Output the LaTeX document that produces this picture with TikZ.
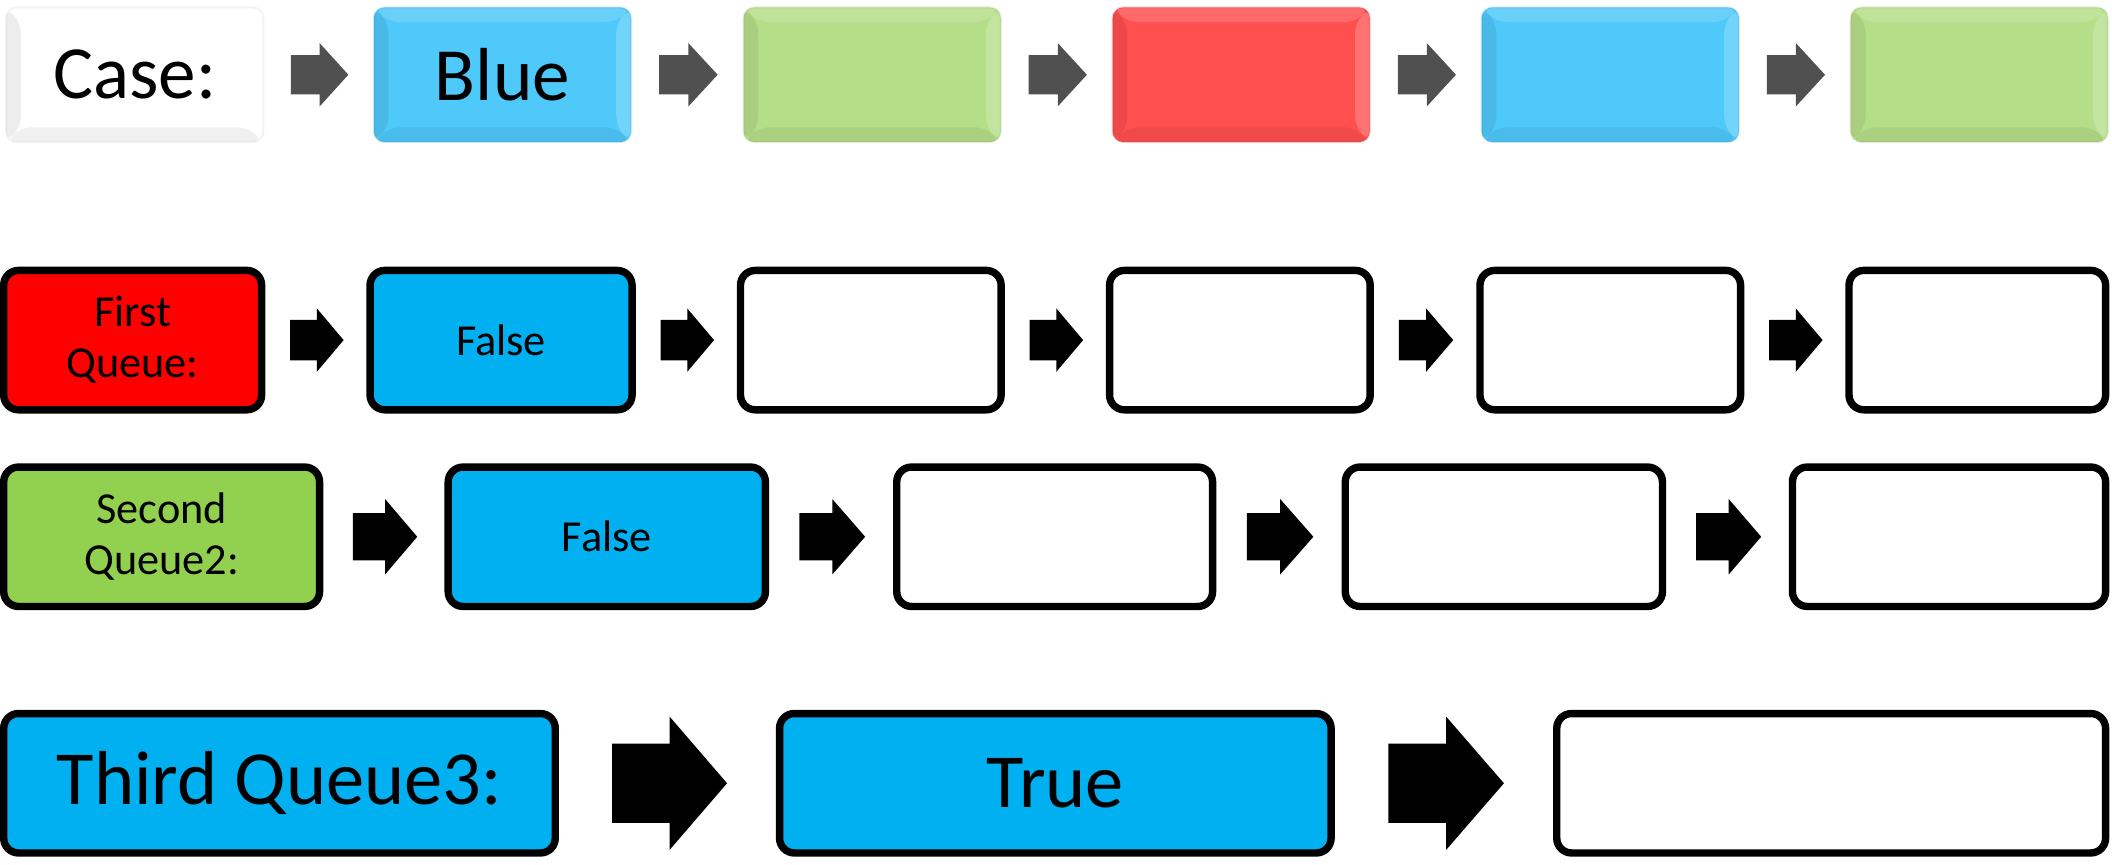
\documentclass[tikz,border=0pt]{standalone}
\usepackage{fontspec}
\setmainfont{Carlito}
\usetikzlibrary{calc}
\definecolor{tblue}{HTML}{4FC8FA}
\definecolor{tgreen}{HTML}{B5DE88}
\definecolor{tred}{HTML}{FF4F4F}
\definecolor{twhite}{HTML}{FFFFFF}
\definecolor{qred}{HTML}{FF0000}
\definecolor{qblue}{HTML}{00B0F0}
\definecolor{qgreen}{HTML}{92D050}
\definecolor{tgray}{HTML}{505050}
\tikzset{
  bevelbox/.style={rectangle, rounded corners=8bp, inner sep=0pt,
    minimum width=191bp, minimum height=100bp, fill=#1,
    draw=#1!75!black, draw opacity=0.18, line width=1.5bp,
    font=\fontsize{56}{60}\selectfont,
    path picture={
      \fill[white, fill opacity=0.15]
        (path picture bounding box.north west) -- (path picture bounding box.north east)
        -- ([xshift=-11bp,yshift=-11bp]path picture bounding box.north east)
        -- ([xshift=11bp,yshift=-11bp]path picture bounding box.north west) -- cycle;
      \fill[black, fill opacity=0.07]
        (path picture bounding box.north west)
        -- ([xshift=11bp,yshift=-11bp]path picture bounding box.north west)
        -- ([xshift=11bp,yshift=11bp]path picture bounding box.south west)
        -- (path picture bounding box.south west) -- cycle;
      \fill[black, fill opacity=0.06]
        (path picture bounding box.south west)
        -- ([xshift=11bp,yshift=11bp]path picture bounding box.south west)
        -- ([xshift=-11bp,yshift=11bp]path picture bounding box.south east)
        -- (path picture bounding box.south east) -- cycle;
      \fill[white, fill opacity=0.2]
        (path picture bounding box.south east)
        -- ([xshift=-11bp,yshift=11bp]path picture bounding box.south east)
        -- ([xshift=-11bp,yshift=-11bp]path picture bounding box.north east)
        -- (path picture bounding box.north east) -- cycle;
    }},
  qbox/.style={rectangle, rounded corners=11bp, draw=black, line width=5.5bp,
    fill=#1, inner sep=0pt, minimum height=103.5bp, align=center},
  smalltext/.style={font=\fontsize{33}{38}\selectfont},
  bigtext/.style={font=\fontsize{57}{62}\selectfont},
}
\newcommand{\blockarr}[5]{%
  \path ($(#1.east)!0.245!(#2.west)$) coordinate (s)
        ($(#1.east)!0.775!(#2.west)$) coordinate (e);
  \path ($(s)!0.5!(e)$) coordinate (m);
  \fill[#5] ([yshift=#3]s) -- ([yshift=#3]m) -- ([yshift=#4]m) -- (e)
    -- ([yshift=-#4]m) -- ([yshift=-#3]m) -- ([yshift=-#3]s) -- cycle;}
\begin{document}
\begin{tikzpicture}[x=1bp, y=-1bp]
\useasboundingbox (0,0) rectangle (1568,642);
% Row 1
\node[bevelbox=twhite] (c0) at (100,55.5) {Case:};
\node[bevelbox=tblue] (c1) at (373,55.5) {Blue};
\node[bevelbox=tgreen] (c2) at (647.5,55.5) {};
\node[bevelbox=tred] (c3) at (921.5,55.5) {};
\node[bevelbox=tblue] (c4) at (1195.5,55.5) {};
\node[bevelbox=tgreen] (c5) at (1469.5,55.5) {};
\blockarr{c0}{c1}{14.5bp}{23.5bp}{tgray}
\blockarr{c1}{c2}{14.5bp}{23.5bp}{tgray}
\blockarr{c2}{c3}{14.5bp}{23.5bp}{tgray}
\blockarr{c3}{c4}{14.5bp}{23.5bp}{tgray}
\blockarr{c4}{c5}{14.5bp}{23.5bp}{tgray}
% Row 2
\node[qbox=qred, smalltext, minimum width=191.5bp] (f0) at (98.5,252.5) {First\\Queue:};
\node[qbox=qblue, smalltext, minimum width=194.5bp] (f1) at (372,252.5) {False};
\node[qbox=white, minimum width=193.5bp] (f2) at (646.5,252.5) {};
\node[qbox=white, minimum width=193.5bp] (f3) at (920.5,252.5) {};
\node[qbox=white, minimum width=193.5bp] (f4) at (1195.5,252.5) {};
\node[qbox=white, minimum width=190.5bp] (f5) at (1468,252.5) {};
\blockarr{f0}{f1}{15bp}{23.5bp}{black}
\blockarr{f1}{f2}{15bp}{23.5bp}{black}
\blockarr{f2}{f3}{15bp}{23.5bp}{black}
\blockarr{f3}{f4}{15bp}{23.5bp}{black}
\blockarr{f4}{f5}{15bp}{23.5bp}{black}
% Row 3
\node[qbox=qgreen, smalltext, minimum width=234.5bp] (s0) at (120,398.5) {Second\\Queue2:};
\node[qbox=qblue, smalltext, minimum width=235.5bp] (s1) at (450.5,398.5) {False};
\node[qbox=white, minimum width=234.5bp] (s2) at (783,398.5) {};
\node[qbox=white, minimum width=235.5bp] (s3) at (1116.5,398.5) {};
\node[qbox=white, minimum width=232.5bp] (s4) at (1447,398.5) {};
\blockarr{s0}{s1}{17.5bp}{28bp}{black}
\blockarr{s1}{s2}{17.5bp}{28bp}{black}
\blockarr{s2}{s3}{17.5bp}{28bp}{black}
\blockarr{s3}{s4}{17.5bp}{28bp}{black}
% Row 4
\node[qbox=qblue, bigtext, minimum width=409.5bp] (t0) at (207.5,581.5) {Third Queue3:};
\node[qbox=qblue, bigtext, minimum width=409.5bp] (t1) at (783.5,581.5) {True};
\node[qbox=white, minimum width=407.5bp] (t2) at (1359.5,581.5) {};
\blockarr{t0}{t1}{29.5bp}{49.5bp}{black}
\blockarr{t1}{t2}{29.5bp}{49.5bp}{black}
\end{tikzpicture}
\end{document}
